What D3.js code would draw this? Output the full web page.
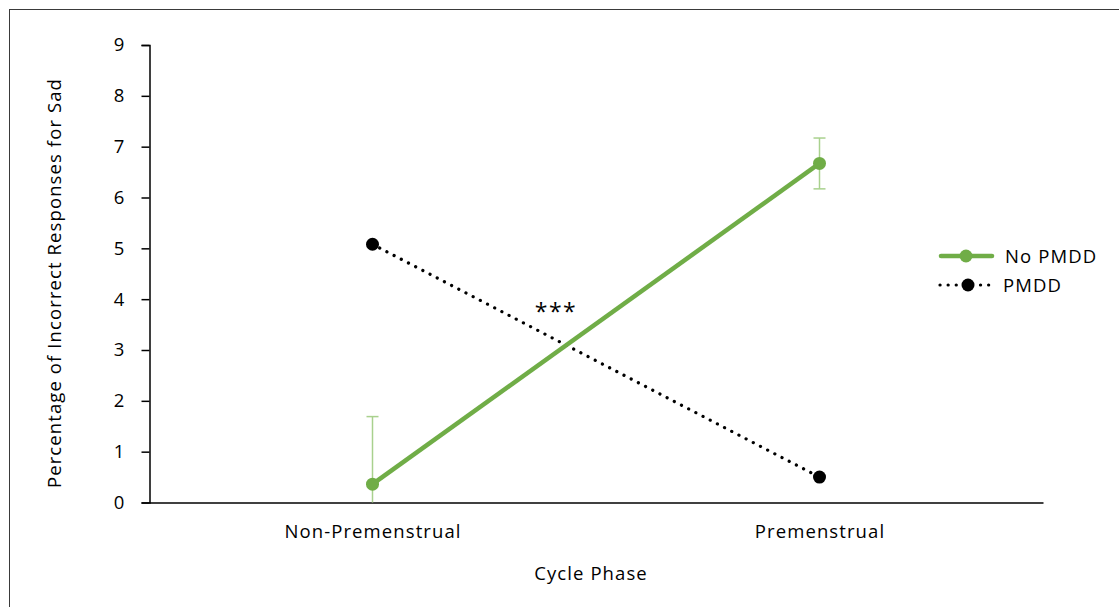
<!DOCTYPE html>
<html>
<head>
<meta charset="utf-8">
<script src="https://cdn.jsdelivr.net/npm/d3@7"></script>
<style>
  html, body { margin: 0; padding: 0; background: #fff; }
  svg { display: block; }
  text { font-family: "Open Sans", "Liberation Sans", sans-serif; fill: #000; letter-spacing: 1.1px; }
</style>
</head>
<body>
<svg id="chart" width="1119" height="607"></svg>
<script>
// Cycle phases on the x axis
const phases = ["Non-Premenstrual", "Premenstrual"];
// Mean percentage of incorrect responses for sad faces
const noPmddValues = [0.36, 6.67];
const pmddValues = [5.08, 0.50];
// Error bar half-widths for the No PMDD group
const noPmddErrors = [1.33, 0.50];
// Y axis ticks
const yTicks = [0, 1, 2, 3, 4, 5, 6, 7, 8, 9];
const seriesNames = ["No PMDD", "PMDD"];

const green = "#70AD47";
const errGreen = "#A9D18E";
const fontSize = 18.5;

const svg = d3.select("#chart");

// outer frame
svg.append("rect")
  .attr("x", 9.5).attr("y", 9.5)
  .attr("width", 1120).attr("height", 620)
  .attr("fill", "none").attr("stroke", "#3a3a3a").attr("stroke-width", 1);

const x = d3.scalePoint().domain(phases).range([149, 1043]).padding(0.5);
const y = d3.scaleLinear().domain([0, 9]).range([502.5, 45]);

// y axis
const yAxis = d3.axisLeft(y).tickValues(yTicks).tickSize(8).tickPadding(16).tickFormat(d3.format("d"));
const gy = svg.append("g").attr("transform", "translate(149.5,0)").call(yAxis);
gy.select(".domain").attr("stroke", "#000").attr("stroke-width", 1.5);
gy.selectAll(".tick line").attr("stroke", "#000").attr("stroke-width", 1.5);
gy.selectAll(".tick text").attr("font-size", fontSize).style("font-family", "'Open Sans', sans-serif");

// x axis
const xAxis = d3.axisBottom(x).tickSize(0).tickPadding(22);
const gx = svg.append("g").attr("transform", "translate(0,502.5)").call(xAxis);
gx.select(".domain").attr("stroke", "#000").attr("stroke-width", 1.5);
gx.selectAll(".tick text").attr("font-size", fontSize).style("font-family", "'Open Sans', sans-serif");

// axis titles
svg.append("text")
  .attr("x", 591).attr("y", 580)
  .attr("text-anchor", "middle").attr("font-size", fontSize)
  .text("Cycle Phase");
svg.append("text")
  .attr("transform", "translate(61,283) rotate(-90)")
  .attr("text-anchor", "middle").attr("font-size", fontSize)
  .text("Percentage of Incorrect Responses for Sad");

// error bars (clipped at zero)
const capW = 6;
noPmddValues.forEach((v, i) => {
  const cx = x(phases[i]);
  const lo = Math.max(0, v - noPmddErrors[i]);
  const hi = v + noPmddErrors[i];
  const g = svg.append("g").attr("stroke", errGreen).attr("stroke-width", 1.5);
  g.append("line").attr("x1", cx).attr("x2", cx).attr("y1", y(lo)).attr("y2", y(hi));
  g.append("line").attr("x1", cx - capW).attr("x2", cx + capW).attr("y1", y(hi)).attr("y2", y(hi));
  if (v - noPmddErrors[i] > 0) {
    g.append("line").attr("x1", cx - capW).attr("x2", cx + capW).attr("y1", y(lo)).attr("y2", y(lo));
  }
});

const line = d3.line().x((d, i) => x(phases[i])).y(d => y(d));

// PMDD dotted line
svg.append("path")
  .datum(pmddValues)
  .attr("d", line)
  .attr("fill", "none").attr("stroke", "#000")
  .attr("stroke-width", 3.2).attr("stroke-linecap", "round")
  .attr("stroke-dasharray", "0.1 8");
svg.selectAll(".pmdd-pt").data(pmddValues).enter().append("circle")
  .attr("cx", (d, i) => x(phases[i])).attr("cy", d => y(d))
  .attr("r", 6.5).attr("fill", "#000");

// No PMDD solid line
svg.append("path")
  .datum(noPmddValues)
  .attr("d", line)
  .attr("fill", "none").attr("stroke", green).attr("stroke-width", 4.5);
svg.selectAll(".nopmdd-pt").data(noPmddValues).enter().append("circle")
  .attr("cx", (d, i) => x(phases[i])).attr("cy", d => y(d))
  .attr("r", 6.5).attr("fill", green);

// significance marker
svg.append("text")
  .attr("x", 556).attr("y", 320)
  .attr("text-anchor", "middle").attr("font-size", 23)
  .style("letter-spacing", "1.5px")
  .text("***");

// legend
const legend = svg.append("g");
const ly = [256, 285];
legend.append("line").attr("x1", 941).attr("x2", 992).attr("y1", ly[0]).attr("y2", ly[0])
  .attr("stroke", green).attr("stroke-width", 4.5).attr("stroke-linecap", "round");
legend.append("circle").attr("cx", 966).attr("cy", ly[0]).attr("r", 6.5).attr("fill", green);
legend.append("line").attr("x1", 940).attr("x2", 990).attr("y1", ly[1]).attr("y2", ly[1])
  .attr("stroke", "#000").attr("stroke-width", 3.2).attr("stroke-linecap", "round")
  .attr("stroke-dasharray", "0.1 8");
legend.append("circle").attr("cx", 968).attr("cy", ly[1]).attr("r", 6.5).attr("fill", "#000");
legend.selectAll(".lt").data(seriesNames).enter().append("text")
  .attr("x", (d, i) => i === 0 ? 1005 : 1003)
  .attr("y", (d, i) => ly[i] + 6.5)
  .attr("font-size", fontSize)
  .text(d => d);
</script>
</body>
</html>
